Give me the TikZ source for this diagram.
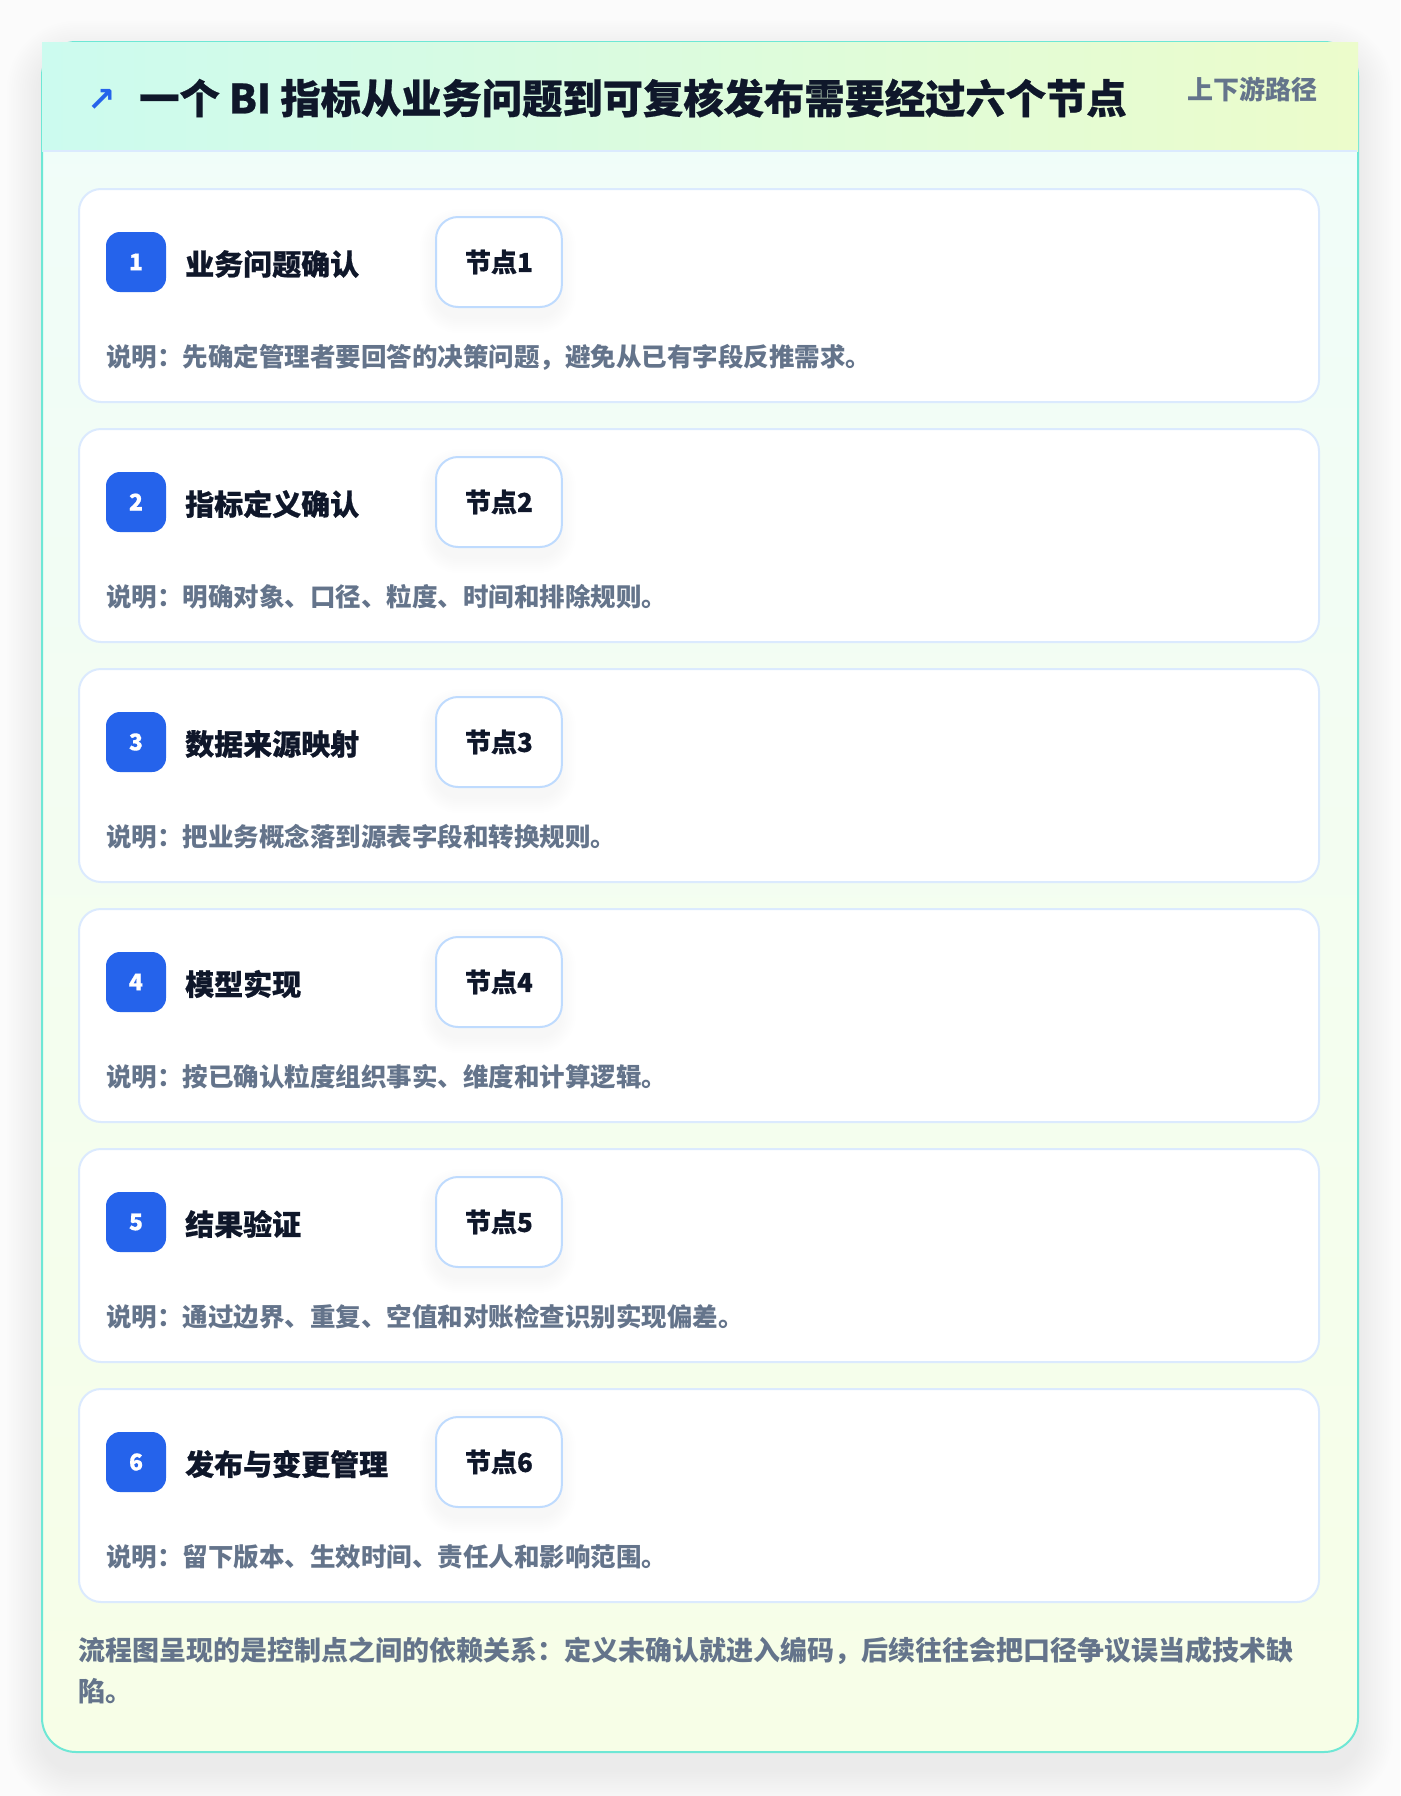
\documentclass[tikz,border=0pt]{standalone}
\usepackage{fontspec}
\setmainfont{Noto Sans CJK SC}
\newfontfamily\heavyfont{Noto Sans CJK SC}[BoldFeatures={FakeBold=0.6}]
\newfontfamily\symfont{DejaVu Sans}
\definecolor{pagebg}{HTML}{FBFBFB}
\definecolor{ink}{HTML}{0F172A}
\definecolor{muted}{HTML}{64748B}
\definecolor{badgeblue}{HTML}{2563EB}
\definecolor{cardline}{HTML}{DBEAFE}
\definecolor{boxline}{HTML}{BFDBFE}
\definecolor{teal}{HTML}{6EE7D5}
\definecolor{headL}{HTML}{CCFBEF}
\definecolor{headR}{HTML}{ECFCCB}
\definecolor{bodyT}{HTML}{F0FDFA}
\definecolor{bodyB}{HTML}{F7FEE7}
\tikzset{
  cardbox/.style={draw=cardline, line width=2pt, fill=white, rounded corners=22pt},
  badge/.style={fill=badgeblue, rounded corners=14pt, minimum width=60pt, minimum height=60pt, inner sep=0pt, text=white, font=\heavyfont\bfseries\fontsize{23}{26}\selectfont},
  steptitle/.style={anchor=west, inner sep=0pt, text=ink, font=\heavyfont\bfseries\fontsize{29}{34}\selectfont},
  nodebox/.style={draw=boxline, line width=2pt, fill=white, rounded corners=22pt, minimum height=90pt, inner xsep=29pt, inner ysep=0pt, text=ink, font=\heavyfont\bfseries\fontsize{26}{30}\selectfont, anchor=west},
  desc/.style={anchor=west, inner sep=0pt, text=muted, font=\fontsize{25.5}{30}\selectfont\bfseries},
  foot/.style={anchor=west, inner sep=0pt, text=muted, font=\fontsize{27}{32}\selectfont\bfseries},
}
\begin{document}
\begin{tikzpicture}[x=1pt,y=-1pt]
\useasboundingbox (0,0) rectangle (1400,1796);
\fill[pagebg] (0,0) rectangle (1400,1796);
% card shadow
\foreach \i in {1,...,16}{
  \pgfmathsetmacro\e{2.2*\i}
  \pgfmathsetmacro\r{34+\e}
  \fill[black, opacity=0.0045, rounded corners=\r pt] ({42-\e},{56-\e}) rectangle ({1358+\e},{1770+\e});
}
% outer card
\shade[top color=bodyT, bottom color=bodyB, rounded corners=34pt] (42,42) rectangle (1358,1752);
\draw[teal, line width=2pt, rounded corners=34pt] (42,42) rectangle (1358,1752);
% header band
\shade[left color=headL, right color=headR] (42,42) rectangle (1358,151);
\draw[cardline, line width=2pt] (43,151) -- (1357,151);
\node[inner sep=0pt, text=badgeblue, font=\symfont\fontsize{34}{36}\selectfont\bfseries] (icon) at (102,100) {↗};
\node[anchor=west, inner sep=0pt, text=ink, font=\heavyfont\bfseries\fontsize{40.3}{46}\selectfont] (heading) at (139,98) {一个 BI 指标从业务问题到可复核发布需要经过六个节点};
\node[anchor=east, inner sep=0pt, text=muted, font=\fontsize{26}{30}\selectfont\bfseries] (path) at (1318,89) {上下游路径};
% steps
\foreach \k/\ttl/\dsc in {
  1/业务问题确认/说明：先确定管理者要回答的决策问题，避免从已有字段反推需求。,
  2/指标定义确认/说明：明确对象、口径、粒度、时间和排除规则。,
  3/数据来源映射/说明：把业务概念落到源表字段和转换规则。,
  4/模型实现/说明：按已确认粒度组织事实、维度和计算逻辑。,
  5/结果验证/说明：通过边界、重复、空值和对账检查识别实现偏差。,
  6/发布与变更管理/说明：留下版本、生效时间、责任人和影响范围。}{
  \pgfmathsetmacro\t{189+240*(\k-1)}
  \draw[cardbox] (79,\t) rectangle (1319,{\t+213});
  \coordinate (card\k) at (79,\t);
  \foreach \j in {1,...,8}{
    \pgfmathsetmacro\f{2*\j}
    \pgfmathsetmacro\rr{22+\f}
    \fill[black, opacity=0.004, rounded corners=\rr pt] ({436-\f},{\t+36-\f}) rectangle ({560+\f},{\t+128+\f});
  }
  \node[badge] (badge\k) at (136,{\t+73}) {\k};
  \node[steptitle] (title\k) at (185,{\t+75}) {\ttl};
  \node[nodebox] (node\k) at (435,{\t+73}) {节点\k};
  \node[desc] (desc\k) at (106,{\t+168}) {\dsc};
}
% footer
\node[foot] (foot1) at (78,1651) {流程图呈现的是控制点之间的依赖关系：定义未确认就进入编码，后续往往会把口径争议误当成技术缺};
\node[foot] (foot2) at (78,1691) {陷。};
\end{tikzpicture}
\end{document}
